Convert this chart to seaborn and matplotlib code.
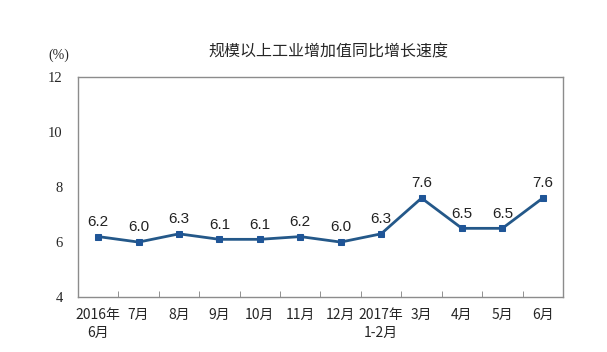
import numpy as np
import pandas as pd
import seaborn as sns
import matplotlib.pyplot as plt

# 规模以上工业增加值同比增长速度
months = ["2016年\n6月", "7月", "8月", "9月", "10月", "11月", "12月",
          "2017年\n1-2月", "3月", "4月", "5月", "6月"]
growth = [6.2, 6.0, 6.3, 6.1, 6.1, 6.2, 6.0, 6.3, 7.6, 6.5, 6.5, 7.6]
yticks = [4, 6, 8, 10, 12]

df = pd.DataFrame({"month": months, "growth": growth})
df["pos"] = np.arange(len(df))

sns.set_style("white")
plt.rcParams["font.family"] = ["Noto Sans CJK SC", "DejaVu Sans"]

fig = plt.figure(figsize=(6.07, 3.52), dpi=100)
ax = fig.add_axes([0.1285, 0.156, 0.799, 0.625])

line_col = "#245889"
sns.lineplot(data=df, x="pos", y="growth", ax=ax, color=line_col, linewidth=2,
             marker="s", markersize=5, markerfacecolor="#1f5597",
             markeredgecolor="#1f5597")

for x, y in zip(df["pos"], df["growth"]):
    ax.text(x, y + 0.28, f"{y:.1f}", ha="center", va="bottom", fontsize=11,
            family=["Liberation Sans"], color="#222222")

ax.set_xlim(-0.5, len(months) - 0.5)
ax.set_ylim(4, 12)
ax.set_yticks(yticks)
ax.set_yticklabels([str(t) for t in yticks], family=["Liberation Serif"], fontsize=10.5)
ax.set_xticks(df["pos"])
ax.set_xticklabels(months, fontsize=10, linespacing=1.3)
ax.set_xticks(np.arange(-0.5, len(months)), minor=True)
ax.tick_params(axis="x", which="major", length=0, pad=8)
ax.tick_params(axis="x", which="minor", direction="in", length=4, color="#808080", bottom=True)
ax.tick_params(axis="y", length=0, pad=11)
ax.set_xlabel("")
ax.set_ylabel("")
for s in ax.spines.values():
    s.set_color("#8c8c8c")
    s.set_linewidth(1)

fig.text(0.541, 0.852, "规模以上工业增加值同比增长速度", ha="center", va="center", fontsize=11.5)
fig.text(0.097, 0.842, "(%)", ha="center", va="center", fontsize=10, family=["Liberation Serif"])

fig.savefig("out.png", dpi=100)
